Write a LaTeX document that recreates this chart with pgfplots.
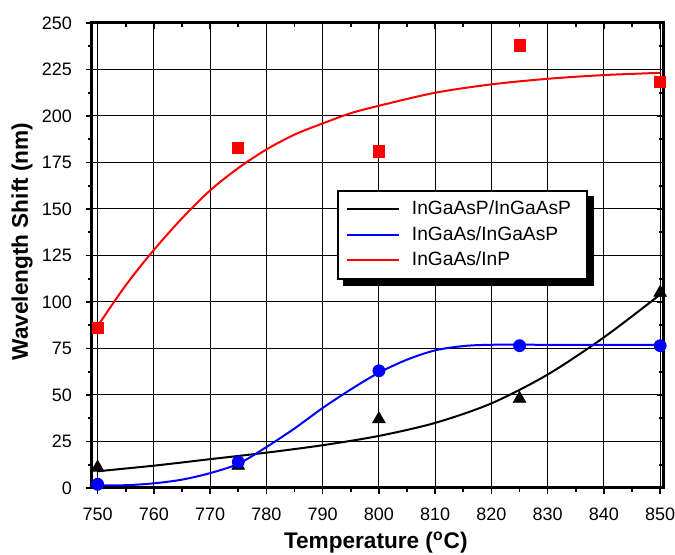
\documentclass[border=0pt]{standalone}
\usepackage{pgfplots}
\pgfplotsset{compat=1.18}
\usepackage{fontspec}
\setmainfont{Liberation Sans}
\definecolor{myred}{RGB}{255,0,0}
\definecolor{myblue}{RGB}{0,0,255}
\begin{document}
\begin{tikzpicture}
\pgfplotsset{every axis/.append style={scale only axis, width=285.5pt, height=232.5pt,
  at={(0,0)}, anchor=south west,
  xmin=749, xmax=850.5, ymin=0, ymax=250,
  xtick={750,760,...,850}, ytick={0,25,...,250},
  minor x tick num=1, minor y tick num=1,
  major tick length=3pt, minor tick length=2pt,
  tick style={black, line width=0.8pt},
  /pgf/number format/assume math mode=true,
  /pgf/number format/1000 sep={},
  axis line style={line width=1.5pt}}}
\begin{axis}[
  xtick pos=top, ytick pos=right, tick align=inside,
  xticklabels={}, yticklabels={},
]
\end{axis}
\begin{axis}[
  xtick pos=bottom, ytick pos=left, tick align=outside,
  grid=major, major grid style={black, line width=0.5pt},
  tick label style={font=\fontsize{9}{10}\selectfont},
  xticklabel style={yshift=-3.5pt},
  yticklabel style={xshift=-3.5pt},
  xlabel={Temperature (\textsuperscript{o}C)},
  ylabel={Wavelength Shift (nm)},
  label style={font=\fontsize{11.3}{13}\selectfont\bfseries},
  xlabel style={at={(0.497,-0.118)}, anchor=center},
  ylabel style={at={(-0.1226,0.53)}, anchor=center},
  legend style={at={(0.429,0.641)}, anchor=north west, draw=black, line width=1pt,
    fill=white, name=leg,
    font=\fontsize{9.6}{12}\selectfont, inner xsep=4pt, inner ysep=3pt,
    row sep=0.3pt, cells={anchor=west}},
  legend image code/.code={\draw[#1, line width=1pt] (0pt,0pt) -- (26pt,0pt); \path (30pt,0pt);},
  legend cell align=left,
]
% curves
\addplot[black, line width=1pt, smooth] coordinates {
 (750,9) (760,12) (770,15.5) (780,19) (790,23) (800,28) (810,35) (820,45.5) (830,61) (840,81) (850,104)};
\addlegendentry{InGaAsP/InGaAsP\hspace*{2pt}}
\addplot[myblue, line width=1pt, smooth] coordinates {
 (750,1.5) (755,1.5) (760,2.5) (765,4.5) (770,8) (775,13) (780,22) (785,32) (790,43) (795,53)
 (800,62) (805,69) (810,74) (815,76.3) (820,77) (830,77) (840,77) (850,77)};
\addlegendentry{InGaAs/InGaAsP}
\addplot[myred, line width=1pt, smooth] coordinates {
 (750,87) (755,109) (760,128) (765,145) (770,160) (775,172) (780,182) (785,190) (790,196)
 (795,201.5) (800,205.5) (810,212.5) (820,217) (830,220) (840,222) (850,223.2)};
\addlegendentry{InGaAs/InP}
% markers
\addplot[only marks, mark=triangle*, mark size=3.6pt, black, forget plot] coordinates {
 (750,11) (775,12) (800,37) (825,48) (850,105)};
\addplot[only marks, mark=*, mark size=3pt, myblue, forget plot] coordinates {
 (750,2) (775,14) (800,63) (825,76.5) (850,76.5)};
\addplot[only marks, mark=square*, mark size=2.8pt, myred, forget plot] coordinates {
 (750,86) (775,183) (800,181) (825,238) (850,218.5)};
\end{axis}
% legend shadow
\fill[black] ([yshift=-3pt]leg.north east) rectangle ([xshift=3pt,yshift=-3pt]leg.south east);
\fill[black] ([xshift=3pt]leg.south west) rectangle ([xshift=3pt,yshift=-3pt]leg.south east);
\pgfresetboundingbox
\useasboundingbox (-46pt,-33.5pt) rectangle (291.5pt,244pt);
\end{tikzpicture}
\end{document}
